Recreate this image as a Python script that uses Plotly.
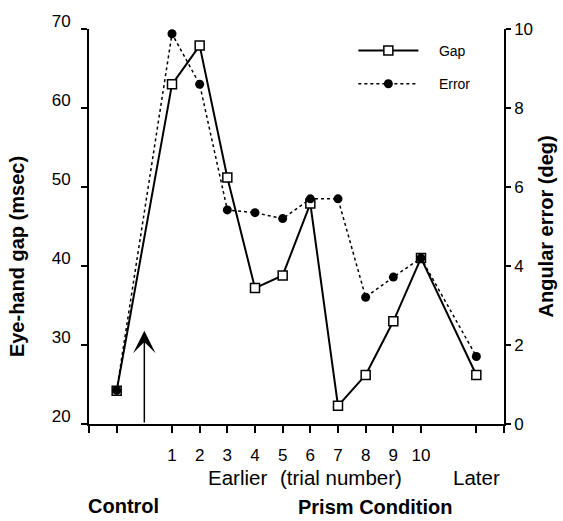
import plotly.graph_objects as go

# ---- data ----
conditions = ["Control", "1", "2", "3", "4", "5", "6", "7", "8", "9", "10", "Later"]
x_positions = [-1, 1, 2, 3, 4, 5, 6, 7, 8, 9, 10, 12]
gap_msec = [24.2, 63.0, 67.9, 51.2, 37.2, 38.8, 47.9, 22.3, 26.2, 33.0, 41.0, 26.2]
error_deg = [0.85, 9.88, 8.6, 5.42, 5.35, 5.2, 5.7, 5.7, 3.21, 3.72, 4.2, 1.71]

x_tickvals = [-2, -1, 1, 2, 3, 4, 5, 6, 7, 8, 9, 10, 12, 13]
x_ticktext = ["", "", "1", "2", "3", "4", "5", "6", "7", "8", "9", "10", "", ""]
gap_ticks = [20, 30, 40, 50, 60, 70]
error_ticks = [0, 2, 4, 6, 8, 10]
prism_onset = 0
arrow_tip_gap = 31.8

FONT = "Liberation Sans, Arial, Helvetica, sans-serif"
PAD = "\u00a0" * 4

fig = go.Figure()

fig.add_trace(go.Scatter(
    x=x_positions, y=error_deg, name=PAD + "Error", yaxis="y2",
    mode="lines+markers", legendgroup="e", legendrank=2,
    line=dict(color="black", width=1.5, dash="3px,3px"),
    marker=dict(symbol="circle", size=9, color="black"),
    text=conditions,
))
fig.add_trace(go.Scatter(
    x=x_positions, y=gap_msec, name=PAD + "Gap", yaxis="y",
    mode="lines+markers", legendgroup="g", legendrank=1,
    line=dict(color="black", width=2),
    marker=dict(symbol="square", size=9, color="white", line=dict(color="black", width=1.5)),
    text=conditions,
))

fig.update_layout(
    width=563, height=521,
    margin=dict(l=89, r=59, t=24, b=97),
    paper_bgcolor="white", plot_bgcolor="white",
    font=dict(family=FONT, color="black", size=16),
    showlegend=True,
    legend=dict(x=0.637, y=0.985, xanchor="left", yanchor="top",
                bgcolor="rgba(0,0,0,0)", font=dict(size=14, family=FONT),
                itemwidth=60, tracegroupgap=12, traceorder="grouped"),
    xaxis=dict(range=[-2, 13], tickmode="array", tickvals=x_tickvals, ticktext=x_ticktext,
               showgrid=False, zeroline=False, showline=True, linecolor="black", linewidth=2,
               ticks="outside", ticklen=7, tickwidth=1.5, tickcolor="black",
               tickfont=dict(size=17), ticklabelstandoff=8),
    yaxis=dict(range=[20, 70], tickvals=gap_ticks, showgrid=False, zeroline=False,
               showline=True, linecolor="black", linewidth=2,
               ticks="outside", ticklen=6, tickwidth=1.5, tickcolor="black",
               tickfont=dict(size=17), ticklabelshift=-8, ticklabelstandoff=7),
    yaxis2=dict(range=[0, 10], tickvals=error_ticks, overlaying="y", side="right",
                showgrid=False, zeroline=False, showline=True, linecolor="black", linewidth=1.5,
                ticks="outside", ticklen=5, tickwidth=1.5, tickcolor="black",
                tickfont=dict(size=17), ticklabelstandoff=0),
)

# arrow marking the prism onset
fig.add_annotation(x=prism_onset, y=arrow_tip_gap, ax=prism_onset, ay=20,
                   xref="x", yref="y", axref="x", ayref="y", text="",
                   showarrow=True, arrowhead=3, arrowsize=2.5, arrowwidth=1.5,
                   arrowcolor="black")

def px_y(py):
    return (424 - py) / 400

def px_x(px):
    return (px - 89) / 415

texts = [
    dict(text="<b>Eye-hand gap (msec)</b>", x=px_x(17), y=px_y(255), textangle=-90, size=20),
    dict(text="<b>Angular error (deg)</b>", x=px_x(545), y=px_y(224), textangle=-90, size=20),
    dict(text="Earlier", x=px_x(237), y=px_y(478), textangle=0, size=20.5),
    dict(text="(trial number)", x=px_x(341), y=px_y(478), textangle=0, size=20.5),
    dict(text="Later", x=px_x(476), y=px_y(478), textangle=0, size=20.5),
    dict(text="<b>Control</b>", x=px_x(123), y=px_y(507), textangle=0, size=20),
    dict(text="<b>Prism Condition</b>", x=px_x(375), y=px_y(508), textangle=0, size=20),
]
for t in texts:
    fig.add_annotation(text=t["text"], x=t["x"], y=t["y"], xref="paper", yref="paper",
                       xanchor="center", yanchor="middle", showarrow=False,
                       textangle=t["textangle"], font=dict(size=t["size"], family=FONT, color="black"))

fig.write_html("out.html", config={"displayModeBar": False},
               post_script="document.body.style.margin='0';document.body.style.overflow='hidden';")
